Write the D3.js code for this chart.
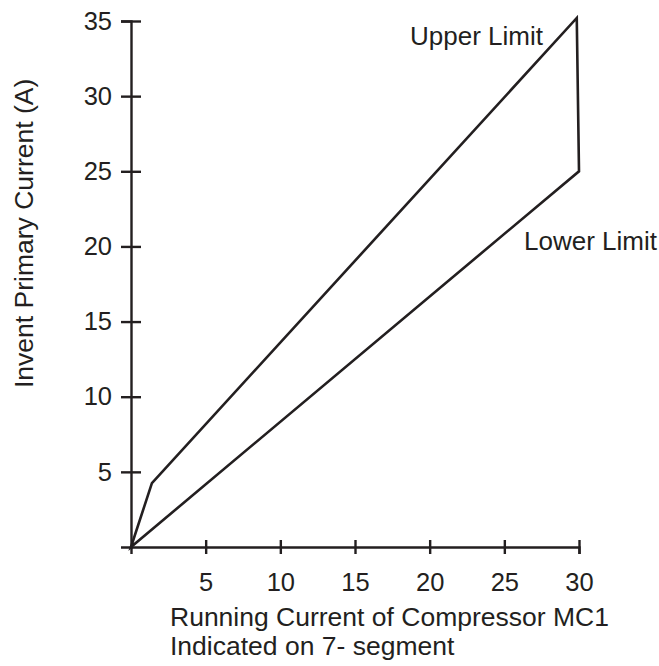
<!DOCTYPE html>
<style>
  body {
    margin: 0;
    background: #fff;
  }
  text {
    font-family: "Liberation Sans", Arial, sans-serif;
    fill: #231f20;
  }
</style>
<body></body>
<script src="https://cdn.jsdelivr.net/npm/d3@7"></script>
<script>
  const width = 659
  const height = 666

  const ink = "#231f20"
  const fontSize = 26

  // readings (x = running current, y = primary current)
  const xTicks = [5, 10, 15, 20, 25, 30]
  const yTicks = [5, 10, 15, 20, 25, 30, 35]
  const upperLimit = [
    { x: 0, y: 0 },
    { x: 1.4, y: 4.25 },
    { x: 29.85, y: 35.2 }
  ]
  const lowerLimit = [
    { x: 0, y: 0 },
    { x: 30, y: 25 }
  ]
  const xTitle = ["Running Current of Compressor MC1", "Indicated on 7- segment"]
  const yTitle = "Invent Primary Current (A)"

  const x = d3.scaleLinear()
    .domain([0, 30])
    .range([131, 579])

  const y = d3.scaleLinear()
    .domain([0, 35])
    .range([547, 21])

  const svg = d3.select("body")
    .append("svg")
    .attr("width", width)
    .attr("height", height)

  // axes - ticks cross the axis line in the original
  const xAxis = svg.append("g")
    .attr("transform", `translate(0, ${y(0)})`)
    .call(d3.axisBottom(x).tickValues(xTicks).tickSizeOuter(0).tickSize(7).tickPadding(20))

  xAxis.selectAll(".tick line").attr("y1", -7)

  const yAxis = svg.append("g")
    .attr("transform", `translate(${x(0)}, 0)`)
    .call(d3.axisLeft(y).tickValues(yTicks).tickSizeOuter(0).tickSize(10).tickPadding(9))

  yAxis.selectAll(".tick line").attr("x1", 10)

  svg.selectAll(".domain, .tick line")
    .attr("stroke", ink)
    .attr("stroke-width", 2.4)

  svg.selectAll(".tick text")
    .attr("fill", ink)
    .style("font-size", "25.5px")
    .style("font-family", "Liberation Sans, Arial, sans-serif")

  xAxis.selectAll(".tick text").attr("dy", "0.68em")

  // envelope: upper limit out, across the end, lower limit back
  const line = d3.line()
    .x(d => x(d.x))
    .y(d => y(d.y))

  svg.append("path")
    .datum(upperLimit.concat(lowerLimit.slice().reverse()))
    .attr("d", d => line(d) + "Z")
    .attr("fill", "none")
    .attr("stroke", ink)
    .attr("stroke-width", 2.6)
    .attr("stroke-linejoin", "miter")

  svg.append("text")
    .attr("x", 543)
    .attr("y", 45)
    .attr("text-anchor", "end")
    .style("font-size", fontSize + "px")
    .text("Upper Limit")

  svg.append("text")
    .attr("x", 524)
    .attr("y", 250)
    .style("font-size", fontSize + "px")
    .text("Lower Limit")

  svg.append("g")
    .selectAll("text")
    .data(xTitle)
    .enter()
    .append("text")
    .attr("x", 170)
    .attr("y", (d, i) => 626 + i * 29)
    .style("font-size", "26.5px")
    .text(d => d)

  svg.append("text")
    .attr("transform", "translate(33, 388) rotate(-90)")
    .style("font-size", "26.5px")
    .text(yTitle)
</script>
